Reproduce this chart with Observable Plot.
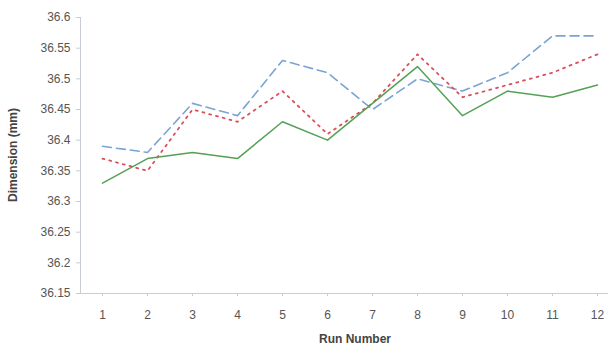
<!DOCTYPE html>
<html><head><meta charset="utf-8">
<script src="https://cdn.jsdelivr.net/npm/d3@7"></script>
<script src="https://cdn.jsdelivr.net/npm/@observablehq/plot@0.6"></script>
<style>body{margin:0;background:#fff;} svg{display:block;}</style>
</head><body>
<div id="chart"></div>
<script>
const runs = [1,2,3,4,5,6,7,8,9,10,11,12];
const seriesA = [36.39,36.38,36.46,36.44,36.53,36.51,36.45,36.50,36.48,36.51,36.57,36.57]; // blue dashed
const seriesB = [36.37,36.35,36.45,36.43,36.48,36.41,36.46,36.54,36.47,36.49,36.51,36.54]; // red dotted
const seriesC = [36.33,36.37,36.38,36.37,36.43,36.40,36.46,36.52,36.44,36.48,36.47,36.49]; // green solid
const yTicks = [36.15,36.2,36.25,36.3,36.35,36.4,36.45,36.5,36.55,36.6];

const toRows = vals => runs.map((r,i)=>({run:r, value:vals[i]}));

const chart = Plot.plot({
  width: 608, height: 349,
  marginLeft: 102, marginRight: 11, marginTop: 17, marginBottom: 56,
  style: {fontFamily: "Liberation Sans, Arial, sans-serif", fontSize: "12px", color: "#555", background: "#fff"},
  x: {domain: [1,12], label: null},
  y: {domain: [36.15,36.6], label: null},
  marks: [
    Plot.axisX({ticks: runs, tickFormat: d=>String(d), tickSize: 3, tickPadding: 14, label: null, stroke: "#c8ccd6", color: "#555"}),
    Plot.axisY({ticks: yTicks, tickFormat: d=>String(+d.toFixed(2)), tickSize: 4, tickPadding: 6, dx: -22, label: null, stroke: "#c8ccd6", color: "#555"}),
    Plot.ruleX([1], {stroke: "#c8ccd6", dx: -22}),
    Plot.ruleY([36.15], {stroke: "#c8ccd6", insetLeft: -22, insetRight: -11}),
    Plot.line(toRows(seriesA), {x:"run", y:"value", stroke:"#7ba3d3", strokeWidth:1.6, strokeDasharray:"9,5"}),
    Plot.line(toRows(seriesB), {x:"run", y:"value", stroke:"#d9505c", strokeWidth:1.8, strokeDasharray:"2,5", strokeLinecap:"round"}),
    Plot.line(toRows(seriesC), {x:"run", y:"value", stroke:"#55a055", strokeWidth:1.5})
  ]
});
const svg = d3.select(chart);
svg.append("text").attr("transform","translate(17,155) rotate(-90)").attr("text-anchor","middle")
  .attr("font-size","12px").attr("font-weight","bold").attr("fill","#444").text("Dimension (mm)");
svg.append("text").attr("x",355).attr("y",343).attr("text-anchor","middle")
  .attr("font-size","12px").attr("font-weight","bold").attr("fill","#444").text("Run Number");
document.getElementById("chart").appendChild(chart);
</script>
</body></html>
